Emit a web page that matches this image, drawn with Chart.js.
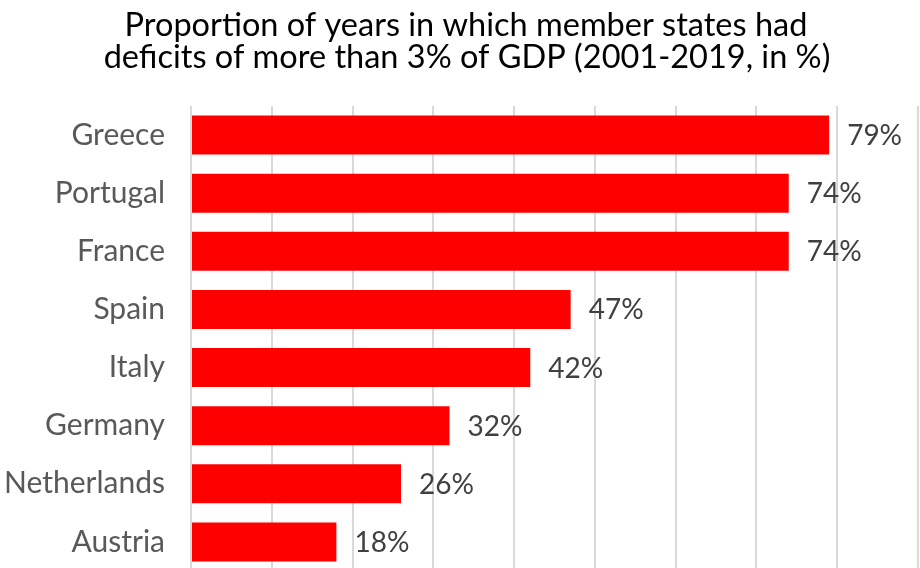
<!DOCTYPE html>
<html><head><meta charset="utf-8">
<script src="https://cdn.jsdelivr.net/npm/chart.js@4/dist/chart.umd.min.js"></script>
<style>html,body{margin:0;padding:0;background:#fff;overflow:hidden;width:920px;height:568px}#wrap{width:920px;height:572px}</style>
</head><body><div id="wrap"><canvas id="c" width="920" height="572"></canvas></div>
<script>
const categories = ["Greece","Portugal","France","Spain","Italy","Germany","Netherlands","Austria"];
const values = [79,74,74,47,42,32,26,18];
const titleLines = ["Proportion of years in which member states had","deficits of more than 3% of GDP (2001-2019, in %)"];
const xTicks = [0,10,20,30,40,50,60,70,80,90];

const labelPlugin = {
  id:'vlabels',
  afterDatasetsDraw(chart){
    const ctx=chart.ctx; const meta=chart.getDatasetMeta(0);
    ctx.save(); ctx.font='28px Lato'; ctx.fillStyle='#404040'; ctx.textBaseline='middle'; ctx.textAlign='left';
    meta.data.forEach((b,i)=>{ ctx.fillText(values[i]+'%', b.x+18, b.y+1); });
    ctx.restore();
  }
};
const titlePlugin = {
  id:'ttl',
  afterDraw(chart){
    const ctx=chart.ctx; ctx.save(); ctx.font='32.5px Lato'; ctx.fillStyle='#000'; ctx.textAlign='center'; ctx.textBaseline='alphabetic';
    ctx.fillText(titleLines[0],466,36); ctx.fillText(titleLines[1],467,68); ctx.restore();
  }
};
new Chart(document.getElementById('c'),{
  type:'bar',
  data:{labels:categories,datasets:[{data:values,backgroundColor:'#FF0000',borderWidth:0,categoryPercentage:1,barPercentage:0.67}]},
  options:{
    indexAxis:'y',responsive:false,animation:false,
    layout:{padding:{top:106,bottom:1,left:0,right:2}},
    plugins:{legend:{display:false},tooltip:{enabled:false},title:{display:false}},
    scales:{
      x:{min:0,max:90,position:'bottom',afterBuildTicks(a){a.ticks=xTicks.map(v=>({value:v}));},
         grid:{color:'#d9d9d9',lineWidth:2,drawTicks:false},border:{display:false},ticks:{display:false},
         afterFit(a){a.height=0;a.paddingLeft=0;a.paddingRight=0;}},
      y:{grid:{display:false},border:{display:false},
         ticks:{font:{family:'Lato',size:30},color:'#595959',padding:18},
         afterFit(a){a.width=191;a.paddingTop=0;a.paddingBottom=0;}}
    }
  },
  plugins:[labelPlugin,titlePlugin]
});
</script></body></html>
